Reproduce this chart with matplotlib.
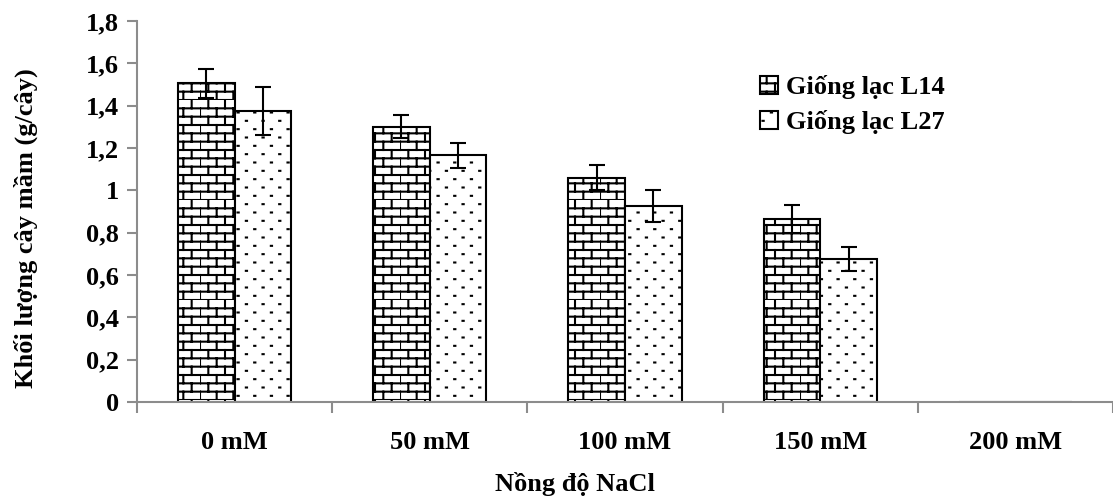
import warnings
import numpy as np
import matplotlib
matplotlib.use("Agg")
import matplotlib.pyplot as plt
from matplotlib import hatch as mhatch
from matplotlib.path import Path

warnings.filterwarnings("ignore")

# data
categories = ["0 mM", "50 mM", "100 mM", "150 mM", "200 mM"]
l14 = [1.505, 1.30, 1.06, 0.865, 0]
l14_err = [0.07, 0.055, 0.06, 0.065, 0]
l27 = [1.375, 1.165, 0.925, 0.675, 0]
l27_err = [0.113, 0.06, 0.075, 0.055, 0]
series_names = ["Giống lạc L14", "Giống lạc L27"]
y_ticks = [0, 0.2, 0.4, 0.6, 0.8, 1.0, 1.2, 1.4, 1.6, 1.8]


# brick hatch ('b') since matplotlib has none
class BrickHatch(mhatch.HatchPatternBase):
    def __init__(self, hatch, density):
        n = hatch.count('b')
        self.rows = 12 * n
        self.cols = 6 * n
        self.num_vertices = (self.rows * 2 + self.rows * self.cols * 2) if n else 0

    def set_vertices_and_codes(self, vertices, codes):
        k = 0
        for i in range(self.rows):
            y0 = i / self.rows
            y1 = (i + 1) / self.rows
            vertices[k] = (0, y0); codes[k] = Path.MOVETO
            vertices[k + 1] = (1, y0); codes[k + 1] = Path.LINETO
            k += 2
            off = 0.5 * (i % 2)
            for j in range(self.cols):
                x = (j + off) / self.cols
                vertices[k] = (x, y0); codes[k] = Path.MOVETO
                vertices[k + 1] = (x, y1); codes[k + 1] = Path.LINETO
                k += 2


# sparse dot hatch ('d')
class DotHatch(mhatch.HatchPatternBase):
    def __init__(self, hatch, density):
        n = hatch.count('d')
        self.rows = 12 * n
        self.cols = 6 * n
        self.num_vertices = self.rows * self.cols * 2 if n else 0

    def set_vertices_and_codes(self, vertices, codes):
        k = 0
        for i in range(self.rows):
            y = (i + 0.5) / self.rows
            off = 0.5 * (i % 2)
            for j in range(self.cols):
                x = (j + off + 0.25) / self.cols
                vertices[k] = (x, y); codes[k] = Path.MOVETO
                vertices[k + 1] = (x + 0.012, y); codes[k + 1] = Path.LINETO
                k += 2


mhatch._hatch_types.append(BrickHatch)
mhatch._hatch_types.append(DotHatch)

plt.rcParams['font.family'] = ['Liberation Serif', 'DejaVu Serif']
plt.rcParams['font.weight'] = 'bold'
plt.rcParams['hatch.linewidth'] = 1.5
plt.rcParams['hatch.color'] = 'black'

fig = plt.figure(figsize=(11.13, 5.01), dpi=100)
ax = fig.add_axes([137 / 1113, 1 - 402 / 501, 976 / 1113, 381 / 501])

x = np.arange(len(categories))
w = 0.29
gray = '#8c8c8c'
fs = 19
ekw = dict(ecolor='black', elinewidth=1.5, capsize=6, capthick=1.5)

b1 = ax.bar(x - w / 2, l14, w, facecolor='white', edgecolor='black', linewidth=1.5,
            hatch='b', label=series_names[0])
b2 = ax.bar(x + w / 2, l27, w, facecolor='white', edgecolor='black', linewidth=1.5,
            hatch='d', label=series_names[1])
for xs, vals, errs in [(x - w / 2, l14, l14_err), (x + w / 2, l27, l27_err)]:
    m = np.array(vals) > 0
    ax.errorbar(xs[m], np.array(vals)[m], yerr=np.array(errs)[m], fmt='none', **ekw)

ax.set_xlim(-0.5, len(categories) - 0.5)
ax.set_ylim(0, 1.8)
ax.set_yticks(y_ticks)
ax.set_yticklabels([f"{v:g}".replace('.', ',') for v in y_ticks], fontsize=fs)

ax.set_xticks(np.arange(-0.5, len(categories)), labels=[])
ax.set_xticks(x, labels=categories, minor=True, fontsize=fs)
ax.tick_params(axis='x', which='major', direction='out', length=8, width=1.5, color=gray)
ax.tick_params(axis='x', which='minor', length=0, pad=21)
ax.tick_params(axis='y', direction='out', length=7, width=1.5, color=gray, pad=6)

for s in ['top', 'right']:
    ax.spines[s].set_visible(False)
for s in ['left', 'bottom']:
    ax.spines[s].set_color(gray)
    ax.spines[s].set_linewidth(1.5)

ax.set_ylabel("Khối lượng cây mầm (g/cây)", fontsize=fs, fontweight='bold')
ax.yaxis.set_label_coords(-0.101, 0.457)
ax.set_xlabel("Nồng độ NaCl", fontsize=fs, fontweight='bold')
ax.xaxis.set_label_coords(0.449, -0.185)

fig.legend(handles=[b1, b2], loc='upper left', bbox_to_anchor=(760 / 1113, 1 - 75 / 501),
           frameon=False, fontsize=fs, handlelength=0.7, handleheight=0.7,
           handletextpad=0.3, labelspacing=0.42, borderpad=0, borderaxespad=0)

fig.savefig("out.png", dpi=100)
